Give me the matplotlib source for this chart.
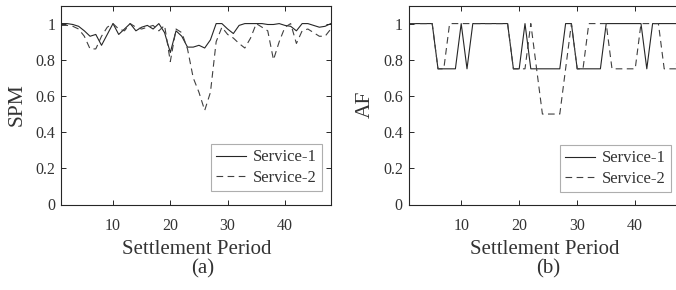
import matplotlib
matplotlib.use("Agg")
import matplotlib.pyplot as plt
import numpy as np

# settlement periods 1..48
periods = list(range(1, 49))

# (a) SPM per settlement period
spm_service1 = [1.0, 1.0, 0.995, 0.985, 0.96, 0.93, 0.94, 0.88, 0.94, 1.0,
                0.94, 0.97, 1.0, 0.96, 0.98, 0.99, 0.97, 1.0, 0.95, 0.84,
                0.96, 0.93, 0.87, 0.87, 0.88, 0.865, 0.91, 1.0, 1.0, 0.97,
                0.945, 0.99, 1.0, 1.0, 1.0, 1.0, 0.995, 0.995, 1.0, 0.99,
                0.985, 0.96, 1.0, 1.0, 0.99, 0.98, 0.985, 1.0]
spm_service2 = [0.99, 0.99, 0.985, 0.97, 0.93, 0.86, 0.86, 0.93, 0.98, 1.0,
                0.97, 0.96, 1.0, 0.98, 0.97, 0.98, 0.99, 0.96, 0.99, 0.79,
                0.97, 0.95, 0.86, 0.70, 0.62, 0.52, 0.62, 0.90, 0.98, 0.94,
                0.92, 0.89, 0.865, 0.92, 1.0, 0.98, 0.96, 0.80, 0.90, 0.98,
                1.0, 0.89, 0.96, 0.97, 0.95, 0.93, 0.93, 0.97]

# (b) AF per settlement period
af_service1 = [1, 1, 1, 1, 1, 0.75, 0.75, 0.75, 0.75, 1,
               0.75, 1, 1, 1, 1, 1, 1, 1, 0.75, 0.75,
               1, 0.75, 0.75, 0.75, 0.75, 0.75, 0.75, 1, 1, 0.75,
               0.75, 0.75, 0.75, 0.75, 1, 1, 1, 1, 1, 1,
               1, 0.75, 1, 1, 1, 1, 1, 1]
af_service2 = [1, 1, 1, 1, 1, 0.75, 0.75, 1, 1, 1,
               1, 1, 1, 1, 1, 1, 1, 1, 0.75, 0.75,
               0.75, 1, 0.75, 0.5, 0.5, 0.5, 0.5, 0.75, 1, 0.75,
               0.75, 1, 1, 1, 1, 0.75, 0.75, 0.75, 0.75, 0.75,
               1, 1, 1, 1, 0.75, 0.75, 0.75, 1]

xticks = [10, 20, 30, 40]
yticks = [0, 0.2, 0.4, 0.6, 0.8, 1]
ytick_labels = ["0", "0.2", "0.4", "0.6", "0.8", "1"]

plt.rcParams['font.family'] = ['Liberation Serif', 'DejaVu Serif']
txt = '#333333'
W, H = 676, 290

fig = plt.figure(figsize=(W / 100, H / 100), dpi=100)
ax1 = fig.add_axes([61.4 / W, (H - 204.5) / H, 269.4 / W, 199 / H])
ax2 = fig.add_axes([409 / W, (H - 204.5) / H, 272.6 / W, 199 / H])


def style_axis(ax, s1, s2, xmax):
    ax.plot(periods, s1, color='#262626', lw=0.8, label='Service-1')
    ax.plot(periods, s2, color='#404040', lw=0.8, linestyle=(0, (6, 4)), label='Service-2')
    ax.set_xlim(1, xmax)
    ax.set_ylim(0, 1.1)
    ax.set_xticks(xticks)
    ax.set_yticks(yticks)
    ax.set_yticklabels(ytick_labels)
    ax.tick_params(direction='in', top=True, right=True, length=3.5, width=0.7,
                   labelsize=11.5, colors='#262626', labelcolor=txt)
    ax.tick_params(axis='x', pad=10)
    ax.tick_params(axis='y', pad=4.5)
    for sp in ax.spines.values():
        sp.set_color('#262626')
        sp.set_linewidth(0.8)


style_axis(ax1, spm_service1, spm_service2, 48)
style_axis(ax2, af_service1, af_service2, 48)

leg_kw = dict(loc='lower right', borderaxespad=0, fontsize=12, frameon=True,
              fancybox=False, handlelength=1.8, labelspacing=0.25, borderpad=0.3,
              handletextpad=0.45, labelcolor=txt)
leg1 = ax1.legend(bbox_to_anchor=(0.967, 0.07), **leg_kw)
leg2 = ax2.legend(bbox_to_anchor=(0.961, 0.065), **leg_kw)
for lg in (leg1, leg2):
    lg.get_frame().set_edgecolor('#9a9a9a')
    lg.get_frame().set_linewidth(0.8)

# axis labels and panel captions
fig.text(16.7 / W, 1 - 104.5 / H, 'SPM', rotation=90, ha='center', va='center', fontsize=15.5, color=txt)
fig.text(365 / W, 1 - 104 / H, 'AF', rotation=90, ha='center', va='center', fontsize=15.5, color=txt)
fig.text(196.7 / W, 1 - 250 / H, 'Settlement Period', ha='center', va='center', fontsize=15, color=txt)
fig.text(545 / W, 1 - 250 / H, 'Settlement Period', ha='center', va='center', fontsize=15, color=txt)
fig.text(203 / W, 1 - 269 / H, '(a)', ha='center', va='center', fontsize=15, color=txt)
fig.text(548 / W, 1 - 269 / H, '(b)', ha='center', va='center', fontsize=15, color=txt)

fig.savefig('out.png', dpi=100, facecolor='white')
